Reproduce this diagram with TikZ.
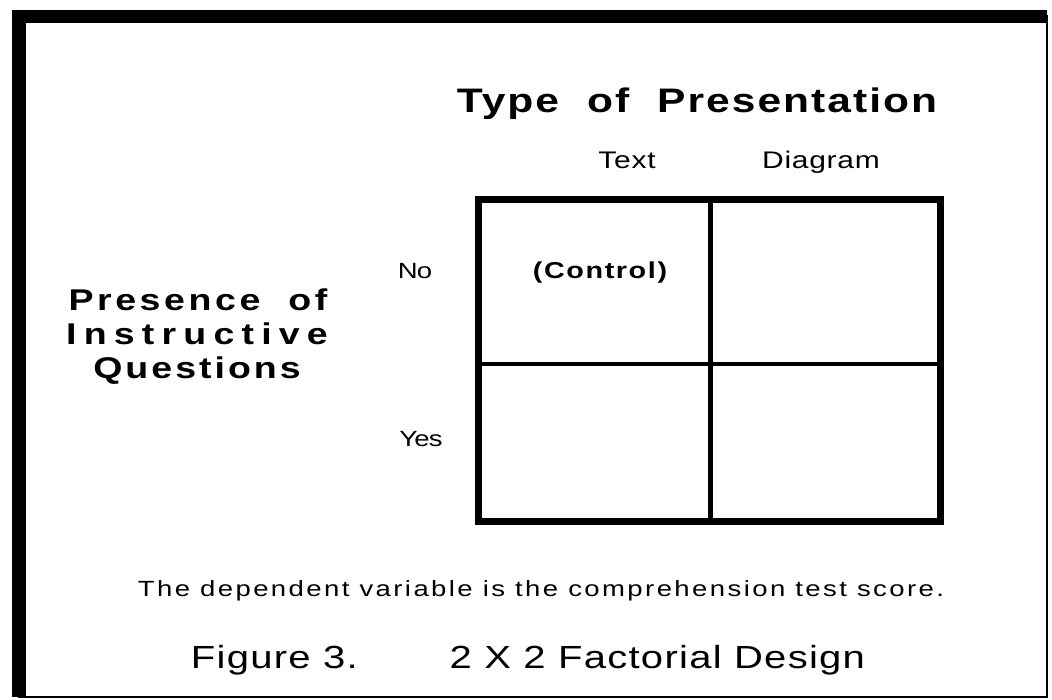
\documentclass[tikz,border=0pt]{standalone}
\usepackage{fontspec}
\setmainfont{Liberation Sans}[FakeStretch=1.25]
\begin{document}
\begin{tikzpicture}[x=1pt,y=-1pt,
  txt/.style={anchor=base, inner sep=0pt},
  heading/.style={txt, font=\fontsize{34}{40}\selectfont\bfseries\addfontfeature{LetterSpace=6}},
  sidehead/.style={txt, font=\fontsize{30}{34}\selectfont\bfseries\addfontfeature{LetterSpace=#1}},
  level/.style={txt, font=\fontsize{24}{28}\selectfont\addfontfeature{LetterSpace=3}},
  rowlevel/.style={txt, font=\fontsize{22}{26}\selectfont\addfontfeature{LetterSpace=-4}},
  cellnote/.style={txt, font=\fontsize{23}{28}\selectfont\bfseries\addfontfeature{LetterSpace=7}},
  note/.style={txt, font=\fontsize{22}{26}\selectfont\addfontfeature{LetterSpace=11}},
  caption/.style={txt, font=\fontsize{32}{38}\selectfont\addfontfeature{LetterSpace=4}},
  gridline/.style={line width=7pt, line join=miter},
  divider/.style={line width=4.5pt},
]
\useasboundingbox (0,0) rectangle (1052,700);
\fill[white] (0,0) rectangle (1052,700);

% frame: heavy on the top and left, hairline on the right and bottom
\draw[line width=2.5pt] (19,16) rectangle (1047,697);
\fill (12,10) rectangle (1047,23);
\fill (12,10) rectangle (26,697);

% 2 x 2 design grid
\coordinate (tl) at (478,199.5);
\coordinate (br) at (940,521.5);
\coordinate (mt) at (710.5,199.5);
\coordinate (mb) at (710.5,521.5);
\coordinate (ml) at (478,364);
\coordinate (mr) at (940,364);
\draw[gridline] (tl) rectangle (br);
\draw[divider] (mt) -- (mb);
\draw[divider] (ml) -- (mr);

% column factor
\node[heading] (colfactor) at (697,113) {Type\hspace{28pt}of\hspace{28pt}Presentation};
\node[level] (text) at (627,169) {Text};
\node[level] (diagram) at (821,169) {Diagram};

% row factor
\node[sidehead=12] (rowfactorA) at (198,311) {Presence\hspace{28pt}of};
\node[sidehead=24] (rowfactorB) at (197,345) {Instructive};
\node[sidehead=10] (rowfactorC) at (197,378) {Questions};
\node[rowlevel] (no) at (415,279) {No};
\node[rowlevel] (yes) at (421,446) {Yes};

% control cell
\node[cellnote] (control) at (600,279) {(Control)};

% notes
\node[note] (dv) at (541,596) {The dependent variable is the comprehension test score.};
\node[caption] (fig) at (528,668) {Figure 3.\hspace{92pt}2 X 2 Factorial Design};
\end{tikzpicture}
\end{document}
